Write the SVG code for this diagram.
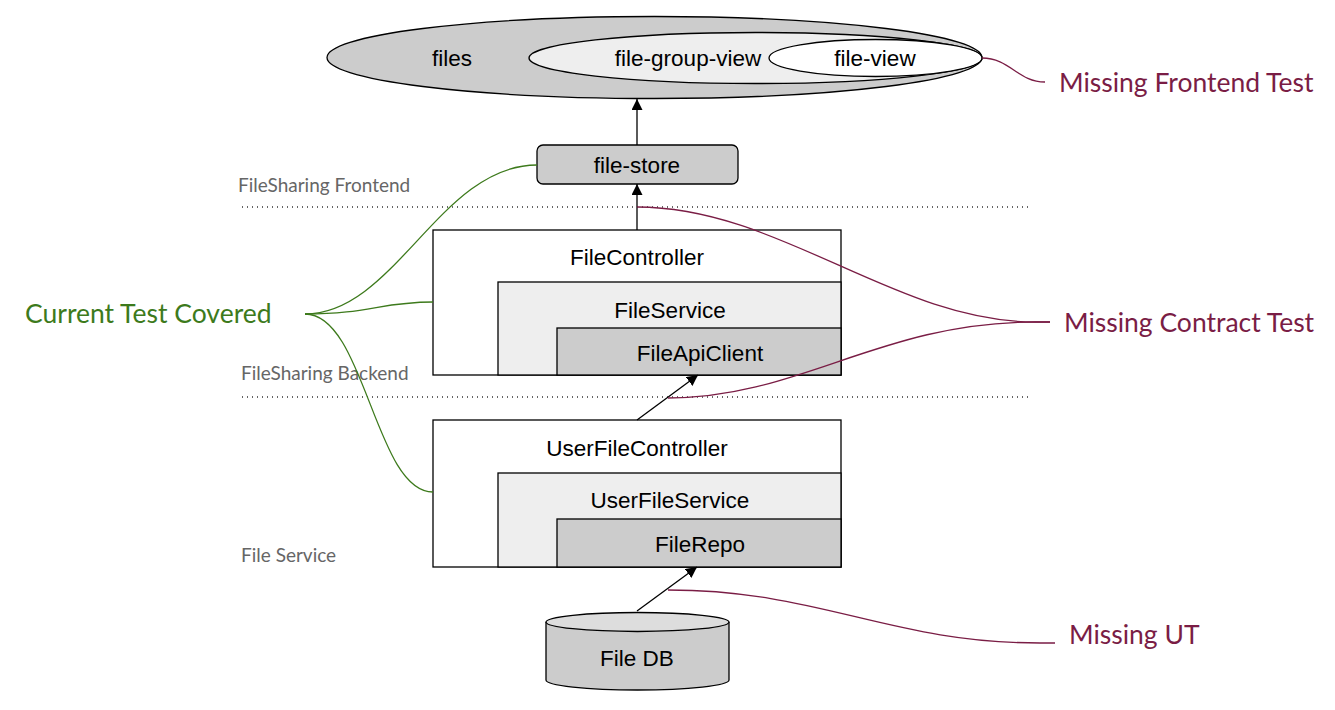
<svg xmlns="http://www.w3.org/2000/svg" width="1335" height="710" viewBox="0 0 1335 710">
<style>
.n{stroke:#000;stroke-width:1.3}
.t{font-family:"Liberation Sans",Arial,sans-serif;font-size:22.5px;fill:#000;text-anchor:middle;dominant-baseline:central}
.lbl{font-family:Lato,"Noto Sans",sans-serif;font-size:19px;fill:#666}
.big{font-family:Lato,"Noto Sans",sans-serif;font-size:26.5px;dominant-baseline:central}
.g{fill:#3d7a1c}
.m{fill:#7a1d45}
.cg{fill:none;stroke:#3d7a1c;stroke-width:1.3}
.cm{fill:none;stroke:#7a1d45;stroke-width:1.3}
.ar{fill:none;stroke:#000;stroke-width:1.3;marker-end:url(#ah)}
.dot{stroke:#333;stroke-width:1.3;stroke-dasharray:1 4}
</style>
<defs>
<marker id="ah" viewBox="0 0 10 10" refX="10" refY="5" markerWidth="11" markerHeight="11" markerUnits="userSpaceOnUse" orient="auto">
<path d="M0,0 L10,5 L0,10 z" fill="#000"/>
</marker>
</defs>
<rect width="1335" height="710" fill="#fff"/>

<g id="separators">
<line class="dot" x1="242" y1="207" x2="1030" y2="207"/>
<line class="dot" x1="242" y1="397" x2="1030" y2="397"/>
<text class="lbl" x="238" y="192">FileSharing Frontend</text>
<text class="lbl" x="241" y="380">FileSharing Backend</text>
<text class="lbl" x="241" y="562">File Service</text>
</g>

<g id="files">
<ellipse class="n" cx="654.5" cy="57.5" rx="327.5" ry="41" fill="#ccc"/>
<text class="t" x="452" y="58">files</text>
</g>
<g id="file-group-view">
<ellipse class="n" cx="755.5" cy="58" rx="226.5" ry="25.5" fill="#eee"/>
<text class="t" x="688" y="58">file-group-view</text>
</g>
<g id="file-view">
<ellipse class="n" cx="875.5" cy="58" rx="106.5" ry="18.5" fill="#fff"/>
<text class="t" x="875" y="58">file-view</text>
</g>

<g id="file-store">
<rect class="n" x="537" y="145" width="201" height="39" rx="6" fill="#ccc"/>
<text class="t" x="637" y="165">file-store</text>
</g>

<g id="FileController">
<rect class="n" x="433" y="230" width="408" height="145" fill="#fff"/>
<text class="t" x="637" y="257">FileController</text>
</g>
<g id="FileService">
<rect class="n" x="498" y="282" width="343" height="93" fill="#eee"/>
<text class="t" x="670" y="310">FileService</text>
</g>
<g id="FileApiClient">
<rect class="n" x="557" y="328" width="284" height="47" fill="#ccc"/>
<text class="t" x="700" y="353">FileApiClient</text>
</g>

<g id="UserFileController">
<rect class="n" x="433" y="420" width="408" height="147" fill="#fff"/>
<text class="t" x="637" y="448">UserFileController</text>
</g>
<g id="UserFileService">
<rect class="n" x="498" y="473" width="343" height="94" fill="#eee"/>
<text class="t" x="670" y="500">UserFileService</text>
</g>
<g id="FileRepo">
<rect class="n" x="557" y="519" width="284" height="48" fill="#ccc"/>
<text class="t" x="700" y="544">FileRepo</text>
</g>

<g id="FileDB">
<path class="n" d="M546,622 L546,680 A91.5,10 0 0 0 729,680 L729,622" fill="#ccc"/>
<ellipse class="n" cx="637.5" cy="622" rx="91.5" ry="9.5" fill="#ddd"/>
<text class="t" x="637" y="658">File DB</text>
</g>

<g id="annotations">
<text class="big g" x="25" y="313">Current Test Covered</text>
<text class="big m" x="1059" y="82">Missing Frontend Test</text>
<text class="big m" x="1064" y="322">Missing Contract Test</text>
<text class="big m" x="1069" y="634">Missing UT</text>
</g>

<g id="connectors">
<line class="ar" x1="637" y1="145" x2="637" y2="99"/>
<line class="ar" x1="637" y1="230" x2="637" y2="184"/>
<line class="ar" x1="637" y1="420" x2="698" y2="375"/>
<line class="ar" x1="637" y1="611" x2="697" y2="567"/>
<path class="cg" d="M305,314 C395,314 440,165 537,165"/>
<path class="cg" d="M305,314 C370,314 380,302 433,302"/>
<path class="cg" d="M305,314 C365,314 375,492 433,492"/>
<path class="cm" d="M982,58 C1010,58 1018,82 1045,82"/>
<path class="cm" d="M637,207 C780,207 895,322 1035,322 L1050,322"/>
<path class="cm" d="M668,398 C800,398 880,322 1035,322 L1050,322"/>
<path class="cm" d="M668,590 C820,590 890,643 1040,643 L1055,643"/>
</g>
</svg>
